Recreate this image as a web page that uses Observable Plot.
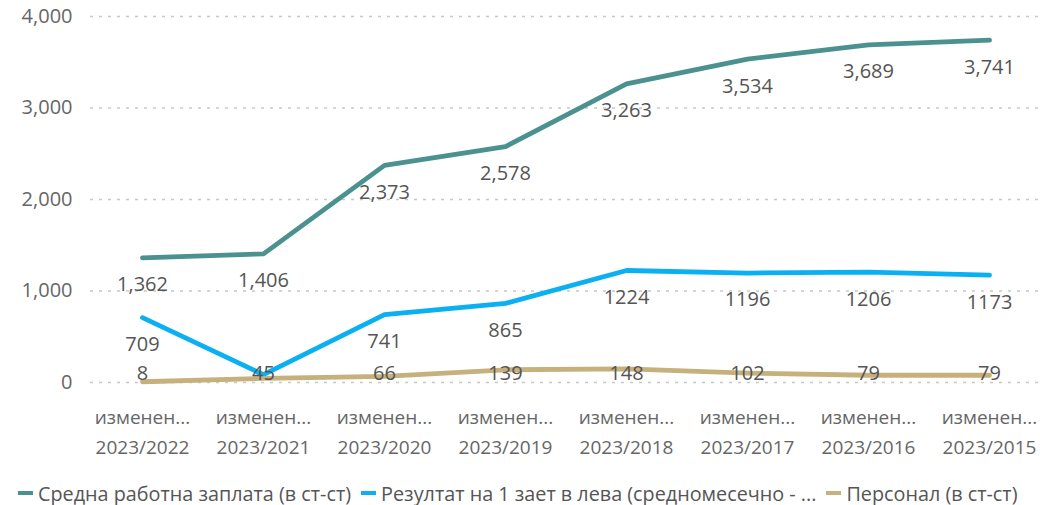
<!DOCTYPE html>
<html>
<head>
<meta charset="utf-8">
<script src="https://cdn.jsdelivr.net/npm/d3@7"></script>
<script src="https://cdn.jsdelivr.net/npm/@observablehq/plot@0.6"></script>
<style>
  html, body { margin: 0; padding: 0; background: #fff; }
  body { width: 1040px; height: 505px; overflow: hidden; font-family: "Open Sans", sans-serif; }
  #legend { display: flex; align-items: center; height: 40px; margin-top: 8px; padding-left: 18px; font-size: 19.8px; color: #555; white-space: nowrap; }
  .item { display: flex; align-items: center; margin-right: 10px; }
  .sw { width: 15px; height: 4px; margin-right: 5px; }
</style>
</head>
<body>
<div id="chart"></div>
<div id="legend"></div>
<script>
const categories = ["2023/2022", "2023/2021", "2023/2020", "2023/2019", "2023/2018", "2023/2017", "2023/2016", "2023/2015"];
const tickPrefix = "изменен...";
const seriesNames = ["Средна работна заплата (в ст-ст)", "Резултат на 1 зает в лева (средномесечно - ...", "Персонал (в ст-ст)"];
const seriesColors = ["#4A9190", "#0AB0F2", "#C6B07B"];
const wageValues = [1362, 1406, 2373, 2578, 3263, 3534, 3689, 3741];
const resultValues = [709, 85, 741, 865, 1224, 1196, 1206, 1173];
const staffValues = [8, 45, 66, 139, 148, 102, 79, 79];
const wageLabels = ["1,362", "1,406", "2,373", "2,578", "3,263", "3,534", "3,689", "3,741"];
const resultLabels = ["709", "45", "741", "865", "1224", "1196", "1206", "1173"];
const staffLabels = ["8", "45", "66", "139", "148", "102", "79", "79"];
const yTicks = [0, 1000, 2000, 3000, 4000];

const seriesValues = [wageValues, resultValues, staffValues];
const seriesLabels = [wageLabels, resultLabels, staffLabels];

const data = [];
seriesValues.forEach((vals, s) => vals.forEach((v, i) => data.push({series: seriesNames[s], cat: categories[i], value: v, label: seriesLabels[s][i], order: s})));

// label placement: below the line, clamped above the plot bottom; hide overlapping ones
const labelOrder = [2, 0, 1];
const labels = [];
categories.forEach(cat => {
  const kept = [];
  labelOrder.forEach(s => {
    const d = data.find(e => e.cat === cat && e.order === s);
    const ly = Math.max(d.value - 295, 98);
    if (kept.every(k => Math.abs(k - ly) > 150)) { kept.push(ly); labels.push({...d, ly}); }
  });
});

const chart = Plot.plot({
  width: 1040,
  height: 465,
  marginLeft: 90,
  marginRight: 0,
  marginTop: 16,
  marginBottom: 83,
  style: {fontFamily: "Open Sans, sans-serif", background: "#fff"},
  x: {type: "point", domain: categories, padding: 0.42},
  y: {domain: [0, 4000]},
  color: {domain: seriesNames, range: seriesColors},
  marks: [
    Plot.gridY(yTicks, {stroke: "#c8c8c8", strokeOpacity: 1, strokeDasharray: "3,6", strokeWidth: 1.3}),
    Plot.axisY(yTicks, {tickSize: 0, tickPadding: 18, fontSize: 20, fill: "#666", tickFormat: d3.format(","), label: null}),
    Plot.axisX({tickSize: 0, tickPadding: 21, fontSize: 19, fill: "#666", lineHeight: 1.55, tickFormat: d => tickPrefix + "\n" + d, label: null}),
    Plot.line(data, {x: "cat", y: "value", z: "series", stroke: "series", strokeWidth: 4.8, strokeLinejoin: "round", strokeLinecap: "round"}),
    Plot.text(labels, {x: "cat", y: "ly", text: "label", fontSize: 20, fill: "#555"})
  ]
});
document.getElementById("chart").appendChild(chart);

const legend = document.getElementById("legend");
seriesNames.forEach((n, i) => {
  const it = document.createElement("div");
  it.className = "item";
  const sw = document.createElement("span");
  sw.className = "sw";
  sw.style.background = seriesColors[i];
  const t = document.createElement("span");
  t.textContent = n;
  it.appendChild(sw); it.appendChild(t);
  legend.appendChild(it);
});
</script>
</body>
</html>
